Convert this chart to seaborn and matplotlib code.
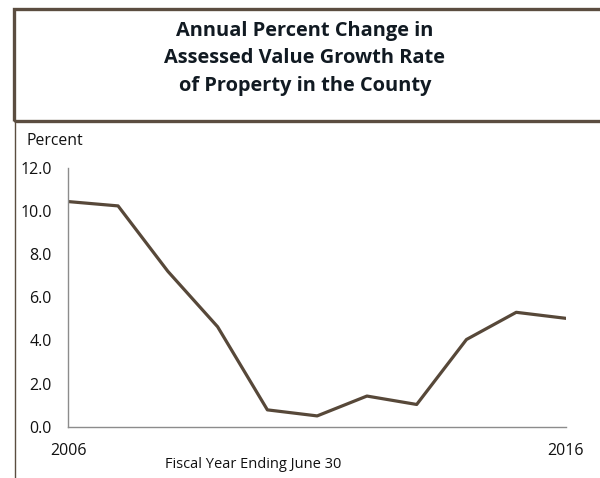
import matplotlib
matplotlib.use("Agg")
import matplotlib.pyplot as plt
import seaborn as sns
import pandas as pd
from matplotlib.patches import Rectangle
from matplotlib.lines import Line2D

years = [2006, 2007, 2008, 2009, 2010, 2011, 2012, 2013, 2014, 2015, 2016]
pct_change = [10.43, 10.23, 7.2, 4.63, 0.78, 0.5, 1.42, 1.03, 4.04, 5.3, 5.02]
y_ticks = [0.0, 2.0, 4.0, 6.0, 8.0, 10.0, 12.0]
x_labels = {2006: "2006", 2016: "2016"}
title_lines = ["Annual Percent Change in", "Assessed Value Growth Rate", "of Property in the County"]

sns.set_theme(style="white")
plt.rcParams['font.family'] = ['Open Sans', 'DejaVu Sans']

df = pd.DataFrame({"year": years, "pct": pct_change})

W, H = 600, 478
fig = plt.figure(figsize=(6, 4.78), dpi=100)
ax = fig.add_axes([68.3 / W, (H - 426.7) / H, (566 - 68.3) / W, (426.7 - 167.7) / H])

brown = "#574839"
sns.lineplot(data=df, x="year", y="pct", ax=ax, color=brown, linewidth=2.3, legend=False)

ax.set_xlim(2006, 2016)
ax.set_ylim(0, 12)
ax.set_yticks(y_ticks)
ax.set_yticklabels([f"{v:.1f}" for v in y_ticks], fontsize=11.5, color="#111111")
ax.set_xticks(years)
ax.set_xticklabels([x_labels.get(y, "") for y in years], fontsize=11.5, color="#111111")
ax.set_xlabel("")
ax.set_ylabel("")
for s in ["top", "right"]:
    ax.spines[s].set_visible(False)
for s in ["left", "bottom"]:
    ax.spines[s].set_color("#8c8c8c")
    ax.spines[s].set_linewidth(1.0)
ax.tick_params(axis="both", direction="out", length=5, width=1.0, color="#8c8c8c")
ax.tick_params(axis="y", pad=7)
ax.tick_params(axis="x", pad=7)
ax.grid(False)

# Title box
fig.patches.append(Rectangle((13.5 / W, (H - 121) / H), (W + 5 - 13.5) / W, 112 / H,
                             transform=fig.transFigure, fill=False,
                             edgecolor="#5b4d40", linewidth=2.4, zorder=5))
# lower frame left line
fig.lines.append(Line2D([14.5 / W, 14.5 / W], [0, (H - 123) / H], transform=fig.transFigure,
                        color="#5b4d40", linewidth=1.0))

for i, line in enumerate(title_lines):
    fig.text(305 / W, 1 - (31 + 27.3 * i) / H, line, ha="center", va="center",
             fontsize=14.4, fontweight="bold", color="#111a22")

fig.text(27 / W, 1 - 141 / H, "Percent", ha="left", va="center", fontsize=11.3, color="#111111")
fig.text(253 / W, 1 - 464 / H, "Fiscal Year Ending June 30", ha="center", va="center",
         fontsize=10.5, color="#111111")

fig.savefig("out.png", dpi=100)
